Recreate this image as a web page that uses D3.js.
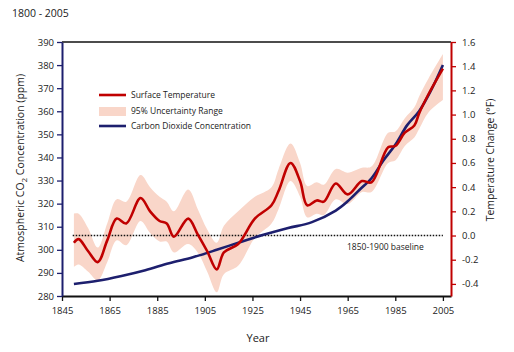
<!DOCTYPE html>
<html>
<head>
<meta charset="utf-8">
<script src="https://cdn.jsdelivr.net/npm/d3@7"></script>
<style>
  body { margin: 0; background: #fff; }
  svg text { font-family: "Open Sans", "Lato", sans-serif; fill: #222; }
</style>
</head>
<body>
<div id="chart"></div>
<script>
// temperature anomaly (°F, vs 1850-1900)
const tempYears = [1850, 1852, 1856, 1860, 1864, 1868, 1872, 1878, 1882, 1886, 1889, 1892, 1898, 1902, 1906, 1910, 1913, 1919, 1926, 1933, 1936, 1941, 1945, 1948, 1952, 1955, 1960, 1965, 1971, 1975, 1982, 1985, 1989, 1993, 1995, 1999, 2005];
const tempValues = [-0.06, -0.03, -0.13, -0.22, -0.04, 0.14, 0.10, 0.31, 0.20, 0.12, 0.10, -0.01, 0.14, 0.01, -0.13, -0.28, -0.14, -0.07, 0.14, 0.25, 0.37, 0.60, 0.45, 0.25, 0.29, 0.28, 0.43, 0.34, 0.45, 0.44, 0.73, 0.74, 0.85, 0.91, 1.01, 1.17, 1.38];
const tempUpper = [0.18, 0.18, 0.06, -0.10, 0.10, 0.30, 0.28, 0.50, 0.40, 0.32, 0.28, 0.20, 0.38, 0.22, 0.05, -0.06, 0.08, 0.20, 0.32, 0.40, 0.55, 0.76, 0.60, 0.41, 0.44, 0.42, 0.55, 0.52, 0.56, 0.57, 0.85, 0.86, 0.97, 1.06, 1.15, 1.30, 1.50];
const tempLower = [-0.26, -0.24, -0.30, -0.37, -0.22, -0.04, -0.08, 0.12, 0.02, -0.05, -0.05, -0.14, -0.07, -0.14, -0.30, -0.47, -0.32, -0.25, -0.02, 0.10, 0.22, 0.45, 0.32, 0.15, 0.18, 0.17, 0.30, 0.26, 0.36, 0.36, 0.60, 0.62, 0.74, 0.81, 0.88, 1.02, 1.12];

// CO2 concentration (ppm)
const co2Years = [1850, 1860, 1870, 1880, 1890, 1900, 1910, 1920, 1930, 1940, 1950, 1960, 1965, 1970, 1975, 1980, 1985, 1990, 1995, 2000, 2005];
const co2Values = [285.2, 286.6, 288.7, 291.2, 294.2, 296.8, 300.0, 303.4, 306.6, 309.4, 312.0, 317.0, 321.0, 326.0, 331.0, 338.7, 345.5, 354.0, 360.0, 369.0, 380.0];

const co2Ticks = d3.range(280, 391, 10);
const tempTicks = [-0.4, -0.2, 0, 0.2, 0.4, 0.6, 0.8, 1.0, 1.2, 1.4, 1.6];
const yearTicks = d3.range(1845, 2006, 20);

const width = 514, height = 352;
const RED = '#c00000', NAVY = '#1d1f6e', BAND = '#f9d6c9';

const svg = d3.select('#chart').append('svg')
  .attr('width', width)
  .attr('height', height);

const x = d3.scaleLinear().domain([1845, 2008.4]).range([62, 451]);
const yL = d3.scaleLinear().domain([280, 390]).range([296, 42]);
const yR = d3.scaleLinear().domain([-0.5, 1.6]).range([296, 42]);

const temp = tempYears.map((yr, i) => ({year: yr, v: tempValues[i], hi: tempUpper[i], lo: tempLower[i]}));
const co2 = co2Years.map((yr, i) => ({year: yr, v: co2Values[i]}));

// uncertainty band
svg.append('path')
  .datum(temp)
  .attr('fill', BAND)
  .attr('d', d3.area().curve(d3.curveCatmullRom.alpha(0.5))
    .x(d => x(d.year)).y0(d => yR(d.lo)).y1(d => yR(d.hi)));

// baseline
svg.append('line')
  .attr('x1', x(1849.5)).attr('x2', x(2005))
  .attr('y1', yR(0)).attr('y2', yR(0))
  .attr('stroke', '#111').attr('stroke-width', 1.3)
  .attr('stroke-dasharray', '1.5,1.5');
svg.append('text')
  .attr('x', 347).attr('y', yR(0) + 14)
  .attr('font-size', 8.5)
  .text('1850-1900 baseline');

// CO2 line
svg.append('path')
  .datum(co2)
  .attr('fill', 'none')
  .attr('stroke', NAVY)
  .attr('stroke-width', 2.6)
  .attr('d', d3.line().curve(d3.curveCatmullRom.alpha(0.5)).x(d => x(d.year)).y(d => yL(d.v)));

// temperature line
svg.append('path')
  .datum(temp)
  .attr('fill', 'none')
  .attr('stroke', RED)
  .attr('stroke-width', 2.6)
  .attr('d', d3.line().curve(d3.curveCatmullRom.alpha(0.5)).x(d => x(d.year)).y(d => yR(d.v)));

// top frame
svg.append('line')
  .attr('x1', 62).attr('x2', 451).attr('y1', 42).attr('y2', 42)
  .attr('stroke', '#111').attr('stroke-width', 1.5);

// axes
const styleAxis = (g, col) => {
  g.select('.domain').attr('stroke', col).attr('stroke-width', 2);
  g.selectAll('.tick line').attr('stroke', col).attr('stroke-width', 1.3);
  g.selectAll('.tick text').attr('font-size', 9.5).attr('fill', '#222')
    .style('font-family', '"Open Sans", sans-serif');
};

// plain hyphen for negatives, as in the original
const fmtTemp = d => d3.format('.1f')(d).replace('\u2212', '-');

svg.append('g')
  .attr('transform', 'translate(0,296)')
  .call(d3.axisBottom(x).tickValues(yearTicks).tickFormat(d3.format('d')).tickSize(5).tickSizeOuter(0).tickPadding(6))
  .call(g => styleAxis(g, '#111'));

svg.append('g')
  .attr('transform', 'translate(62,0)')
  .call(d3.axisLeft(yL).tickValues(co2Ticks).tickSize(5).tickSizeOuter(0).tickPadding(3))
  .call(g => styleAxis(g, NAVY));

svg.append('g')
  .attr('transform', 'translate(451,0)')
  .call(d3.axisRight(yR).tickValues(tempTicks).tickFormat(fmtTemp).tickSize(5).tickSizeOuter(0).tickPadding(6))
  .call(g => styleAxis(g, RED));

// titles
svg.append('text')
  .attr('x', 12).attr('y', 17)
  .attr('font-size', 10.5)
  .text('1800 - 2005');

svg.append('text')
  .attr('x', 258).attr('y', 342)
  .attr('text-anchor', 'middle')
  .attr('font-size', 11)
  .text('Year');

const lt = svg.append('text')
  .attr('transform', 'translate(24,168) rotate(-90)')
  .attr('text-anchor', 'middle')
  .attr('font-size', 10.5);
lt.append('tspan').text('Atmospheric CO');
lt.append('tspan').attr('font-size', 8).attr('dy', 3).text('2');
lt.append('tspan').attr('dy', -3).text(' Concentration (ppm)');

svg.append('text')
  .attr('transform', 'translate(494,160) rotate(-90)')
  .attr('text-anchor', 'middle')
  .attr('font-size', 10.5)
  .text('Temperature Change (°F)');

// legend
const legend = svg.append('g');
legend.append('line').attr('x1', 99).attr('x2', 126).attr('y1', 95).attr('y2', 95)
  .attr('stroke', RED).attr('stroke-width', 2.6);
legend.append('rect').attr('x', 99).attr('y', 107).attr('width', 27).attr('height', 9)
  .attr('fill', BAND);
legend.append('line').attr('x1', 99).attr('x2', 126).attr('y1', 126).attr('y2', 126)
  .attr('stroke', NAVY).attr('stroke-width', 2.6);
const legendLabels = ['Surface Temperature', '95% Uncertainty Range', 'Carbon Dioxide Concentration'];
legend.selectAll('text.lab').data(legendLabels).enter().append('text')
  .attr('class', 'lab')
  .attr('x', 131)
  .attr('y', (d, i) => [95, 111, 126][i] + 3)
  .attr('font-size', 8.5)
  .text(d => d);
</script>
</body>
</html>
